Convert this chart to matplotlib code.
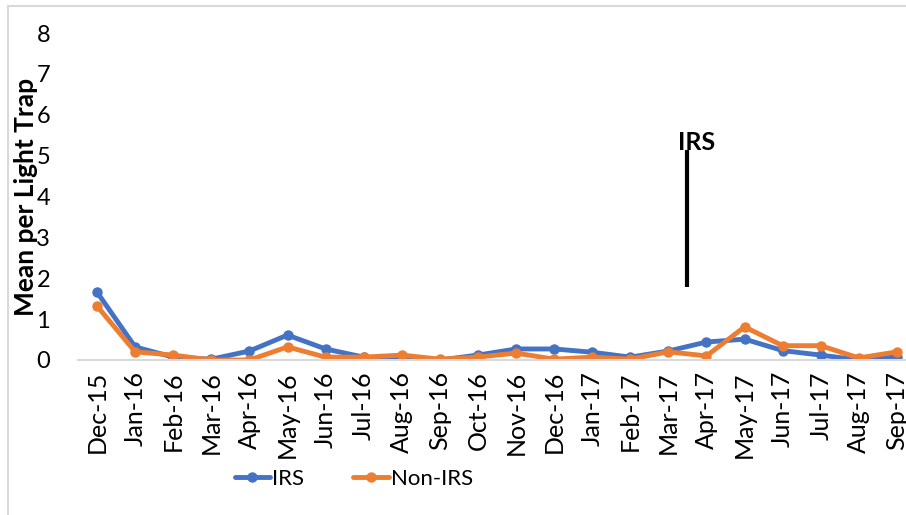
import matplotlib.pyplot as plt
from matplotlib.patches import Rectangle

months = ["Dec-15", "Jan-16", "Feb-16", "Mar-16", "Apr-16", "May-16", "Jun-16",
          "Jul-16", "Aug-16", "Sep-16", "Oct-16", "Nov-16", "Dec-16", "Jan-17",
          "Feb-17", "Mar-17", "Apr-17", "May-17", "Jun-17", "Jul-17", "Aug-17",
          "Sep-17"]
irs = [1.66, 0.32, 0.07, 0.02, 0.22, 0.61, 0.27, 0.07, 0.01, 0.0, 0.12,
       0.27, 0.27, 0.19, 0.07, 0.22, 0.44, 0.51, 0.23, 0.12, 0.0, 0.08]
non_irs = [1.32, 0.20, 0.12, 0.0, 0.0, 0.32, 0.07, 0.07, 0.12, 0.02, 0.07,
           0.17, 0.02, 0.07, 0.02, 0.20, 0.10, 0.81, 0.35, 0.35, 0.05, 0.20]

# IRS start marker (between Mar-17 and Apr-17)
irs_start_x = 15.5
irs_start_y = (1.78, 5.13)

plt.rcParams["font.family"] = ["Lato", "DejaVu Sans"]

fig = plt.figure(figsize=(9.06, 5.15), dpi=100)
ax = fig.add_axes([78 / 906, 155 / 515, 838 / 906, 327 / 515])

x = list(range(len(months)))
ax.plot(x, irs, color="#4472C4", lw=3.5, marker="o", ms=6.5, label="IRS",
        solid_capstyle="round")
ax.plot(x, non_irs, color="#ED7D31", lw=3.5, marker="o", ms=6.5, label="Non-IRS",
        solid_capstyle="round")

ax.vlines(irs_start_x, *irs_start_y, color="black", lw=3)
ax.text(irs_start_x + 0.25, irs_start_y[1] - 0.08, "IRS", ha="center", va="bottom",
        fontsize=18, fontweight="bold")

ax.set_xlim(-0.5, len(months) - 0.5)
ax.set_ylim(0, 8)
ax.set_xticks(x)
ax.set_xticklabels(months, rotation=90, fontsize=18)
ax.set_yticks(range(0, 9))
ax.tick_params(axis="y", labelsize=17, length=0, pad=20)
ax.tick_params(axis="x", length=0, pad=8)
ax.set_ylabel("Mean per Light Trap", fontsize=19, fontweight="bold")
ax.yaxis.label.set_va("center")
ax.yaxis.set_label_coords(-0.062, 0.5)

for side in ["top", "right", "left"]:
    ax.spines[side].set_visible(False)
ax.spines["bottom"].set_color("#D9D9D9")
ax.spines["bottom"].set_linewidth(1.5)

ax.legend(loc="center", bbox_to_anchor=(354 / 906, 36 / 515), bbox_transform=fig.transFigure,
          ncol=2, frameon=False, fontsize=16, handlelength=1.6, handletextpad=0.1,
          columnspacing=2.2)

fig.patches.append(Rectangle((8 / 906, -0.1), 1.2, 1 - 6 / 515 + 0.1, transform=fig.transFigure,
                             fill=False, edgecolor="#D9D9D9", lw=1.5))

fig.savefig("out.png", dpi=100)
